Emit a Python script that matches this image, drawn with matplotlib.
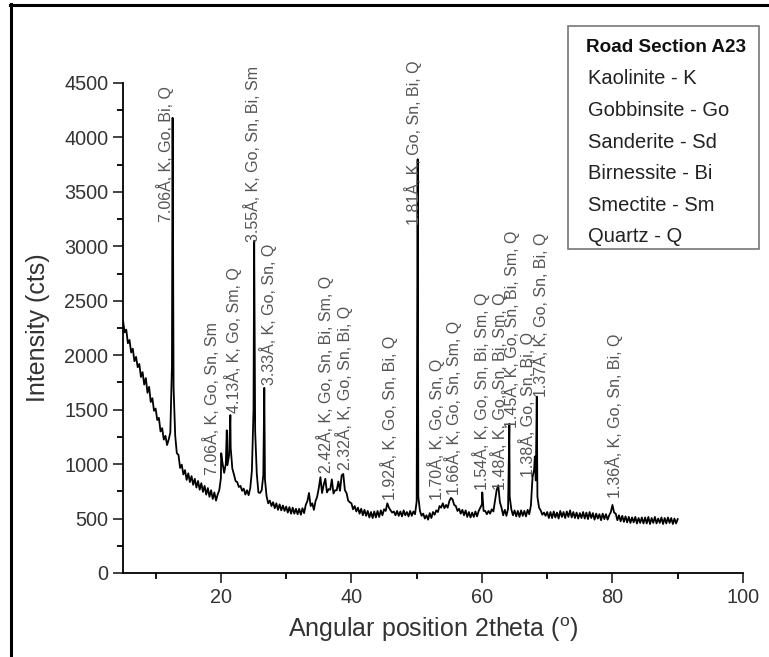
import numpy as np
import matplotlib
matplotlib.use("Agg")
import matplotlib.pyplot as plt
from matplotlib.patches import Rectangle
from matplotlib.lines import Line2D

plt.rcParams['font.family'] = ['Liberation Sans', 'DejaVu Sans']
plt.rcParams['mathtext.fontset'] = 'custom'
plt.rcParams['mathtext.rm'] = 'Liberation Sans'

# scan: start angle, step and counts (5 - 90 deg)
scan_start = 5.0
scan_step = 0.25
counts = [
    2320, 2210, 2235, 2110, 2140, 2025, 2060, 1945, 1985, 1890, 1920, 1800, 1845, 1730, 1790, 1655, 1710, 1570, 1605, 1490,
    1510, 1405, 1425, 1300, 1330, 1225, 1260, 1175, 1225, 1290, 1900, 1700, 1260, 1100, 1085, 965, 995, 905, 945, 855,
    915, 835, 890, 810, 865, 785, 845, 765, 825, 745, 800, 720, 780, 700, 760, 680, 740, 665, 720, 760,
    870, 1010, 920, 1000, 990, 1080, 1150, 960, 905, 845, 835, 790, 800, 755, 775, 720, 760, 715, 780, 940,
    1500, 1300, 910, 740, 735, 760, 900, 860, 705, 640, 665, 615, 650, 595, 640, 580, 630, 575, 620, 570,
    610, 555, 605, 545, 600, 545, 590, 540, 590, 535, 595, 550, 625, 660, 735, 615, 640, 580, 660, 700,
    780, 880, 735, 810, 865, 740, 770, 765, 860, 730, 760, 760, 840, 755, 895, 910, 760, 735, 665, 650,
    640, 585, 615, 565, 600, 545, 590, 530, 580, 525, 570, 510, 560, 505, 565, 510, 570, 515, 575, 530,
    585, 570, 640, 600, 575, 555, 565, 530, 570, 525, 565, 520, 575, 530, 560, 520, 570, 525, 565, 540,
    660, 700, 570, 525, 545, 500, 530, 490, 550, 505, 560, 535, 575, 560, 615, 600, 640, 595, 625, 600,
    660, 690, 675, 625, 615, 570, 590, 545, 580, 530, 575, 515, 560, 510, 555, 515, 565, 520, 570, 600,
    630, 570, 570, 540, 570, 545, 585, 565, 660, 760, 805, 650, 600, 530, 580, 525, 590, 700, 585, 530,
    575, 520, 570, 515, 575, 525, 570, 520, 580, 540, 620, 880, 950, 850, 700, 600, 575, 535, 555, 525,
    560, 505, 560, 505, 565, 510, 555, 500, 570, 515, 560, 505, 565, 515, 575, 510, 560, 505, 555, 500,
    550, 505, 560, 500, 555, 495, 560, 505, 550, 490, 545, 500, 540, 485, 545, 495, 540, 490, 530, 560,
    625, 555, 545, 485, 530, 475, 525, 470, 520, 465, 515, 460, 510, 465, 515, 455, 505, 460, 510, 455,
    510, 455, 515, 450, 505, 460, 515, 455, 500, 460, 510, 450, 505, 455, 510, 460, 505, 450, 500, 455,
    495,
]

# sharp reflections (2theta, counts)
peak_pos = [12.6, 20.05, 20.9, 21.45, 25.1, 26.65, 50.15, 60.05, 64.2, 68.1, 68.4]
peak_height = [4180, 1100, 1310, 1450, 3050, 1700, 3800, 740, 1370, 1070, 1620]

# peak labels: anchor angle, anchor intensity, text
label_pos = [11.4, 18.5, 21.8, 24.9, 27.2, 35.9, 38.9, 45.7, 49.4, 53.0, 55.5, 59.9, 62.6, 64.5, 66.9, 68.9, 80.2]
label_base = [3225, 900, 1470, 3040, 1726, 918, 946, 670, 3195, 670, 716, 762, 762, 1330, 880, 1615, 690]
label_text = [
    "7.06Å, K, Go, Bi, Q",
    "7.06Å, K, Go, Sn, Sm",
    "4.13Å, K, Go, Sm, Q",
    "3.55Å, K, Go, Sn, Bi, Sm",
    "3.33Å, K, Go, Sn, Q",
    "2.42Å, K, Go, Sn, Bi, Sm, Q",
    "2.32Å, K, Go, Sn, Bi, Q",
    "1.92Å, K, Go, Sn, Bi, Q",
    "1.81Å, K, Go, Sn, Bi, Q",
    "1.70Å, K, Go, Sn, Q",
    "1.66Å, K, Go, Sn, Sm, Q",
    "1.54Å, K, Go, Sn, Bi, Sm, Q",
    "1.48Å, K, Go, Sn, Bi, Sm, Q",
    "1.45Å, K, Go, Sn, Bi, Sm, Q",
    "1.38Å, Go, Sn, Bi, Q",
    "1.37Å, K, Go, Sn, Bi, Q",
    "1.36Å, K, Go, Sn, Bi, Q",
]

legend_title = "Road Section A23"
legend_lines = ["Kaolinite - K", "Gobbinsite - Go", "Sanderite - Sd",
                "Birnessite - Bi", "Smectite - Sm", "Quartz - Q"]

# merge scan and reflections into one trace
angles = scan_start + scan_step * np.arange(len(counts))
x = np.concatenate([angles, peak_pos])
y = np.concatenate([counts, peak_height])
order = np.argsort(x)
x, y = x[order], y[order]

W, H = 769, 657
fig = plt.figure(figsize=(W / 100, H / 100), dpi=100)
ax = fig.add_axes([123 / W, 1 - 573 / H, 620 / W, 490 / H])

ax.plot(x, y, color='black', lw=1.3)

for t, b, s in zip(label_pos, label_base, label_text):
    ax.text(t, b, s, rotation=90, ha='center', va='bottom', fontsize=11.5, color='#555555')

ax.set_xlim(5, 100)
ax.set_ylim(0, 4500)
ax.set_xticks([20, 40, 60, 80, 100])
ax.set_xticks([10, 30, 50, 70, 90], minor=True)
ax.set_yticks(np.arange(0, 4501, 500))
ax.set_yticks(np.arange(250, 4500, 500), minor=True)
ax.spines['top'].set_visible(False)
ax.spines['right'].set_visible(False)
for sp in ['left', 'bottom']:
    ax.spines[sp].set_linewidth(1.3)
ax.tick_params(which='major', direction='out', length=7, width=1.3, labelsize=14.3, colors='#333333')
ax.tick_params(which='minor', direction='out', length=4, width=1.3)
ax.set_xlabel(r'Angular position 2theta ($^{\mathrm{o}}$)', fontsize=18, color='#333333', labelpad=6)
ax.set_ylabel('Intensity (cts)', fontsize=18, color='#333333', labelpad=10)

# legend box with mineral key
fig.patches.append(Rectangle((568 / W, 1 - 249 / H), 191 / W, 223 / H, transform=fig.transFigure,
                             fill=False, edgecolor='#777777', lw=1.2))
fig.text(586 / W, 1 - 48 / H, legend_title, fontsize=13.6, fontweight='bold', va='center', color='#111111')
for i, s in enumerate(legend_lines):
    fig.text(588 / W, 1 - (79 + 31.6 * i) / H, s, fontsize=14.5, va='center', color='#222222')

# outer frame (left and top edges)
fig.add_artist(Line2D([11 / W, 11 / W], [0, 1 - 4 / H], transform=fig.transFigure, color='black', lw=2.2))
fig.add_artist(Line2D([9.5 / W, 1], [1 - 5.3 / H, 1 - 5.3 / H], transform=fig.transFigure, color='black', lw=2.2))

fig.savefig('out.png', dpi=100)
